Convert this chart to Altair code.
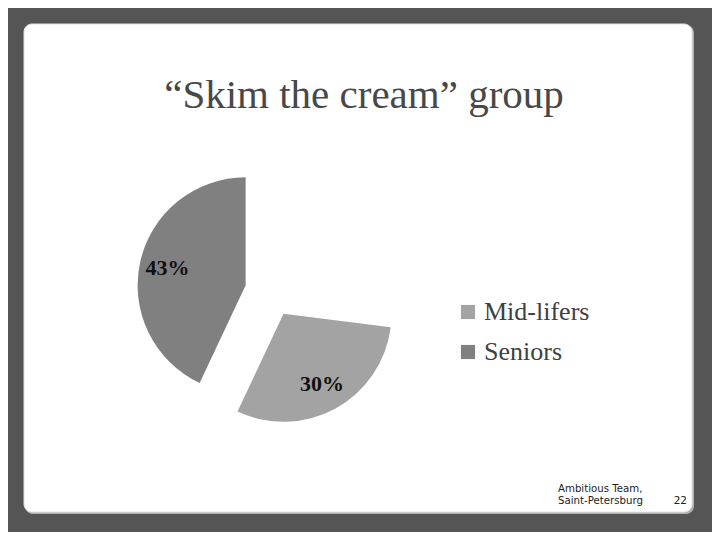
import math
import altair as alt
import pandas as pd

# ---- data ----
title_text = "\u201cSkim the cream\u201d group"
categories = ["Other", "Mid-lifers", "Seniors"]
shares = [27, 30, 43]
labels = ["", "30%", "43%"]
colors = ["#ffffff", "#a3a3a3", "#808080"]
legend_items = ["Mid-lifers", "Seniors"]
footer_lines = ["Ambitious Team,", "Saint-Petersburg"]
page_number = ["22"]

df = pd.DataFrame({
    "category": categories,
    "share": shares,
    "label": labels,
    "order": list(range(len(categories))),
})

W, H = 704, 524
CX, CY, R = 263, 283, 108
EXPLODE = 26
LABEL_R = 80

color_scale = alt.Scale(domain=categories, range=colors)
theta_scale = alt.Scale(domain=[0, 100])

one = pd.DataFrame({"k": [0]})

shadow = alt.Chart(one).mark_rect(color="#b0b0b0", cornerRadius=8).encode(
    x=alt.value(17), x2=alt.value(686), y=alt.value(17), y2=alt.value(506)
)
slide = alt.Chart(one).mark_rect(color="#ffffff", cornerRadius=8, stroke="#e4e4e4", strokeWidth=1).encode(
    x=alt.value(16), x2=alt.value(684), y=alt.value(16), y2=alt.value(504)
)

title = alt.Chart(pd.DataFrame({"t": [title_text]})).mark_text(
    font="Liberation Serif", fontSize=41, color="#484848", align="center", baseline="alphabetic"
).encode(text="t:N", x=alt.value(356), y=alt.value(100))

base = alt.Chart(df).transform_stack(
    stack="share", as_=["start", "end"], groupby=[], sort=[alt.SortField("order")]
).transform_calculate(mid="(datum.start + datum.end) / 2")

layers = [shadow, slide, title]
cum = 0.0
total = float(sum(shares))
for cat, val, lab in zip(categories, shares, labels):
    ang = (cum + val / 2.0) / total * 2 * math.pi
    cum += val
    visible = lab != ""
    ox = EXPLODE * math.sin(ang) if visible else 0.0
    oy = -EXPLODE * math.cos(ang) if visible else 0.0
    sl = base.transform_filter(alt.datum.category == cat)
    arc = sl.mark_arc(radius=R, xOffset=ox, yOffset=oy, strokeWidth=0).encode(
        theta=alt.Theta("start:Q", scale=theta_scale),
        theta2="end:Q",
        x=alt.value(CX),
        y=alt.value(CY),
        color=alt.Color(
            "category:N",
            scale=color_scale,
            legend=alt.Legend(
                values=legend_items, orient="none", legendX=447, legendY=291,
                title=None, symbolType="square", symbolSize=200, symbolStrokeWidth=0,
                labelFont="Liberation Serif", labelFontSize=26, labelColor="#404040",
                labelOffset=3, rowPadding=14, padding=0,
            ),
        ),
    )
    layers.append(arc)
    if visible:
        txt = sl.mark_text(
            radius=LABEL_R, dx=ox, dy=oy, font="Liberation Serif", fontSize=22,
            fontWeight="bold", color="#111111", align="center", baseline="middle",
        ).encode(
            theta=alt.Theta("mid:Q", scale=theta_scale, stack=False),
            text="label:N",
            x=alt.value(CX),
            y=alt.value(CY),
        )
        layers.append(txt)

footer = alt.Chart(pd.DataFrame({"t": footer_lines, "i": [0, 1]})).mark_text(
    font="DejaVu Sans", fontSize=10.2, color="#222222", align="left", baseline="alphabetic"
).encode(
    text="t:N",
    x=alt.value(550),
    y=alt.Y("i:Q", scale=alt.Scale(domain=[0, 1], range=[484, 496]), axis=None),
)
page = alt.Chart(pd.DataFrame({"t": page_number})).mark_text(
    font="DejaVu Sans", fontSize=10.5, color="#222222", align="right", baseline="alphabetic"
).encode(text="t:N", x=alt.value(679), y=alt.value(496))
layers += [footer, page]

chart = alt.layer(*layers).properties(
    width=W, height=H, background="#555555", padding=0,
    autosize=alt.AutoSizeParams(type="none"),
).resolve_scale(y="independent").configure_view(stroke=None)

chart.save("out.html", embed_options={"renderer": "svg", "actions": False})
